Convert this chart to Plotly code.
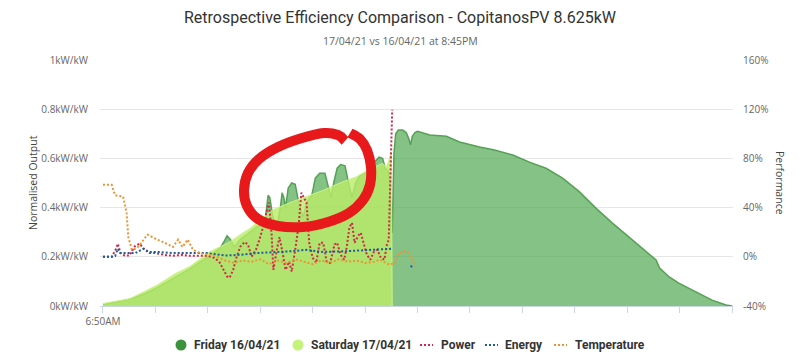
import plotly.graph_objects as go

# ---------------- data (x = minutes after 6:50AM) ----------------
sat_t = [0, 14, 31, 48, 62, 82, 99, 122, 145, 157, 168, 194, 214, 233, 252, 271, 290, 302, 314, 320, 324, 327, 329, 330, 331]
sat_v = [0.01, 0.02, 0.03, 0.06, 0.085, 0.13, 0.16, 0.22, 0.26, 0.29, 0.315, 0.39, 0.42, 0.445, 0.47, 0.50, 0.525, 0.55, 0.57, 0.58, 0.565, 0.59, 0.62, 0.62, 0]

fri_t = [0, 14, 31, 48, 62, 82, 99, 122, 134, 139, 142, 146, 150, 157, 168, 179, 186, 189, 191, 194, 199, 203, 205,
         207, 209, 212, 216, 220, 224, 229, 233, 239, 243, 248, 254, 257, 261, 264, 268, 272, 277, 281, 285, 289,
         294, 301, 307, 312, 316, 320, 323, 326, 328, 330, 331, 333, 335, 338, 343, 347, 350, 352, 354, 357, 360,
         374, 393, 408, 431, 448, 469, 488, 507, 526, 545, 565, 583, 602, 622, 633, 637, 648, 659, 679, 697, 713, 720]
fri_v = [0.005, 0.015, 0.028, 0.05, 0.075, 0.115, 0.15, 0.205, 0.235, 0.265, 0.285, 0.27, 0.24, 0.27, 0.30, 0.33,
         0.36, 0.45, 0.44, 0.37, 0.32, 0.40, 0.46, 0.44, 0.40, 0.48, 0.50, 0.495, 0.42, 0.36, 0.42, 0.45, 0.52,
         0.54, 0.54, 0.50, 0.44, 0.50, 0.56, 0.575, 0.57, 0.50, 0.44, 0.50, 0.53, 0.54, 0.56, 0.59, 0.605, 0.60,
         0.56, 0.55, 0.52, 0.30, 0.30, 0.62, 0.70, 0.715, 0.715, 0.705, 0.68, 0.655, 0.69, 0.705, 0.71,
         0.695, 0.69, 0.667, 0.646, 0.634, 0.614, 0.585, 0.56, 0.52, 0.465, 0.395, 0.337, 0.28, 0.22, 0.187,
         0.154, 0.118, 0.093, 0.057, 0.024, 0.004, 0]

pow_t = [0, 10, 15, 17, 20, 25, 30, 37, 42, 47, 53, 60, 70, 80, 90, 100, 110, 120, 127, 133, 138, 142, 145, 149,
         153, 157, 162, 166, 170, 175, 179, 183, 187, 190, 193, 195, 199, 202, 206, 209, 213, 216, 220, 224, 227,
         230, 233, 236, 240, 244, 248, 252, 256, 260, 265, 268, 272, 276, 279, 282, 285, 288, 292, 295, 298, 302,
         306, 310, 314, 318, 322, 325, 327, 329, 331]
pow_v = [0, 0, 6.5, 10.6, 3, 1, 1, 9, 10.6, 6.5, 3, 3, 1.6, 0.8, 1.6, 0.8, 0.8, 0.8, -0.8, -4, -10.6, -16, -17,
         -10.6, 0, 8, 12, 10, 0, 5.7, 13.8, 23.6, 35.8, 44, 18, -10.6, 5.7, 16, 1.6, -10.6, -4, -12, 5.7, 26, 52,
         48, 44, 11.4, -0.8, -5, 11.4, 11.4, -4, -5, 10, 11.4, 1.6, -2.4, 8, 24, 27.6, 11.4, 17, 19.5, 11.4, 1.6,
         -2.4, 4, 5.7, -0.8, -2.4, 10, 13.8, 66.7, 119.5]

en_t = [0, 10, 14, 17, 20, 28, 37, 46, 53, 62, 80, 100, 120, 140, 157, 175, 195, 215, 233, 250, 271, 290, 309, 330, 340, 352, 355]
en_v = [0, 0, 0.8, 6.5, 3, 3, 3, 6.5, 4, 4, 3, 3, 3, 1, 1.6, 3, 3.5, 4.5, 5.7, 4, 4.3, 5, 5.7, 6.5, None, -7.3, -9]

tmp_t = [0, 10, 12, 14, 23, 27, 29, 33, 39, 46, 51, 62, 69, 80, 86, 91, 97, 103, 111, 122, 130, 140, 150, 160,
         170, 180, 190, 200, 210, 220, 230, 240, 250, 260, 270, 280, 290, 300, 310, 317, 328, 334, 339, 344, 349, 354, 357]
tmp_v = [58.5, 58.5, 54, 50, 49, 36, 16, 5.7, 7, 14, 18, 14, 12, 8, 14, 8, 14, 5.7, 3, 1.6, 0, -3, -5, -3, -4, -2,
         -6, -3, -5, -2, -4, -6, -3, -5, -2, -4, -3, -5, -4, -2.4, -6.5, -5, 3, 4.5, 4, -2.4, -8]

x_tickvals = [0, 60, 120, 180, 240, 300, 360, 420, 480, 540, 600, 660, 720]
x_ticktext = ["6:50AM", "", "", "", "", "", "", "", "", "", "", "", ""]
left_tickvals = [0, 0.2, 0.4, 0.6, 0.8, 1]
left_ticktext = ["0kW/kW", "0.2kW/kW", "0.4kW/kW", "0.6kW/kW", "0.8kW/kW", "1kW/kW"]
right_tickvals = [-40, 0, 40, 80, 120, 160]
right_ticktext = ["-40%", "0%", "40%", "80%", "120%", "160%"]

legend_names = ["Friday 16/04/21", "Saturday 17/04/21", "Power", "Energy", "Temperature"]
colors = {"fri_fill": "rgba(86,170,86,0.72)", "fri_line": "#55a155", "fri_dot": "#3d923d",
          "sat_fill": "rgba(186,236,104,0.8)", "sat_line": "rgba(205,243,135,1)", "sat_dot": "#c5f27a",
          "power": "#d0284a", "energy": "#1f5c99", "temp": "#ec9436"}

# ---------------- geometry (page has an 8px body margin) ----------------
OFF = 8
W, H = 800 - OFF, 362 - OFF
L, R, T, B = 100 - OFF, 800 - 733, 60 - OFF, 362 - 306
PW, PH = W - L - R, H - T - B


def to_paper(px, py):
    """page pixel -> paper coordinates"""
    return ((px - OFF - L) / PW, (H - B - (py - OFF)) / PH)


fig = go.Figure()
fig.add_trace(go.Scatter(x=fri_t, y=fri_v, mode="lines", fill="tozeroy", fillcolor=colors["fri_fill"],
                         line=dict(color=colors["fri_line"], width=1.5), showlegend=False, hoverinfo="skip"))
fig.add_trace(go.Scatter(x=sat_t, y=sat_v, mode="lines", fill="tozeroy", fillcolor=colors["sat_fill"],
                         line=dict(color=colors["sat_line"], width=1), showlegend=False, hoverinfo="skip"))
fig.add_trace(go.Scatter(x=pow_t, y=pow_v, mode="lines", name="Power", yaxis="y2", showlegend=False,
                         line=dict(color=colors["power"], width=2, dash="2px,2px")))
fig.add_trace(go.Scatter(x=en_t, y=en_v, mode="lines", name="Energy", yaxis="y2", showlegend=False,
                         line=dict(color=colors["energy"], width=2, dash="2px,2px"), connectgaps=False))
fig.add_trace(go.Scatter(x=tmp_t, y=tmp_v, mode="lines", name="Temperature", yaxis="y2", showlegend=False,
                         line=dict(color=colors["temp"], width=2, dash="2px,2px")))

tickfont = dict(family="Open Sans", size=10, color="#666666")

# ---------------- hand-drawn red circle annotation ----------------
circle_px = [(350, 133), (360, 139), (367, 150), (371, 167), (370, 185), (363, 200), (349, 213), (328, 222),
             (303, 227), (278, 226), (258, 219), (247, 206), (244, 190), (248, 173), (259, 159), (278, 147),
             (302, 138), (324, 133), (338, 135), (345, 141)]
n = len(circle_px)
path = "M {:.4f},{:.4f}".format(*to_paper(*circle_px[0]))
for i in range(n - 1):
    p0 = circle_px[max(i - 1, 0)]
    p1 = circle_px[i]
    p2 = circle_px[i + 1]
    p3 = circle_px[min(i + 2, n - 1)]
    c1 = (p1[0] + (p2[0] - p0[0]) / 6, p1[1] + (p2[1] - p0[1]) / 6)
    c2 = (p2[0] - (p3[0] - p1[0]) / 6, p2[1] - (p3[1] - p1[1]) / 6)
    a, b, c = to_paper(*c1), to_paper(*c2), to_paper(*p2)
    path += " C {:.4f},{:.4f} {:.4f},{:.4f} {:.4f},{:.4f}".format(a[0], a[1], b[0], b[1], c[0], c[1])

shapes = [dict(type="path", path=path, xref="paper", yref="paper",
               line=dict(color="#e8191a", width=10), layer="above")]
annotations = []

# ---------------- legend (drawn manually to match spacing) ----------------
LEG_Y = 345
leg_font = dict(family="Roboto", size=12, color="#333333", weight="bold")
for cx, col in [(181, colors["fri_dot"]), (298, colors["sat_dot"])]:
    x0, y0 = to_paper(cx - 5.5, LEG_Y + 5.5)
    x1, y1 = to_paper(cx + 5.5, LEG_Y - 5.5)
    shapes.append(dict(type="circle", xref="paper", yref="paper", x0=x0, y0=y0, x1=x1, y1=y1,
                       fillcolor=col, line=dict(width=0)))
for sx, col in [(420, colors["power"]), (485, colors["energy"]), (554, colors["temp"])]:
    x0, y0 = to_paper(sx, LEG_Y)
    x1, _ = to_paper(sx + 13, LEG_Y)
    shapes.append(dict(type="line", xref="paper", yref="paper", x0=x0, y0=y0, x1=x1, y1=y0,
                       line=dict(color=col, width=2, dash="2px,2px")))
for tx, name in zip([192, 309, 439, 503, 573], legend_names):
    x, y = to_paper(tx, LEG_Y)
    annotations.append(dict(text=name, xref="paper", yref="paper", x=x, y=y, xanchor="left",
                            yanchor="middle", showarrow=False, font=leg_font))

# ---------------- titles ----------------
tx, ty = to_paper(400, 17)
annotations.append(dict(text="Retrospective Efficiency Comparison - CopitanosPV 8.625kW", xref="paper",
                        yref="paper", x=tx, y=ty, xanchor="center", yanchor="middle", showarrow=False,
                        font=dict(family="Roboto", size=16, color="#333333")))
tx, ty = to_paper(400, 41)
annotations.append(dict(text="17/04/21 vs 16/04/21 at 8:45PM", xref="paper", yref="paper", x=tx, y=ty,
                        xanchor="center", yanchor="middle", showarrow=False,
                        font=dict(family="Open Sans", size=10.5, color="#666666")))
tx, ty = to_paper(33, 183)
annotations.append(dict(text="Normalised Output", xref="paper", yref="paper", textangle=-90, x=tx, y=ty,
                        xanchor="center", yanchor="middle", showarrow=False,
                        font=dict(family="Open Sans", size=10.5, color="#444444")))
tx, ty = to_paper(780, 183)
annotations.append(dict(text="Performance", xref="paper", yref="paper", textangle=90, x=tx, y=ty,
                        xanchor="center", yanchor="middle", showarrow=False,
                        font=dict(family="Open Sans", size=10.5, color="#444444")))

fig.update_layout(
    width=W, height=H,
    margin=dict(l=L, r=R, t=T, b=B, pad=0, autoexpand=False),
    paper_bgcolor="white", plot_bgcolor="white",
    font=dict(family="Open Sans", color="#333333"),
    showlegend=False,
    xaxis=dict(range=[-3.4, 721], tickvals=x_tickvals, ticktext=x_ticktext, showgrid=False,
               showline=True, linecolor="#ccd6eb", linewidth=1, ticks="outside", ticklen=6,
               tickcolor="#ccd6eb", tickfont=tickfont, zeroline=False, automargin=False),
    yaxis=dict(range=[0, 1], tickvals=left_tickvals, ticktext=left_ticktext, showgrid=True,
               gridcolor="#e6e6e6", gridwidth=1, zeroline=False, tickfont=tickfont,
               ticks="outside", ticklen=9, tickcolor="rgba(0,0,0,0)", showline=False, automargin=False),
    yaxis2=dict(range=[-40, 160], tickvals=right_tickvals, ticktext=right_ticktext, overlaying="y",
                side="right", showgrid=False, zeroline=False, tickfont=tickfont,
                ticks="outside", ticklen=7, tickcolor="rgba(0,0,0,0)", showline=False, automargin=False),
    shapes=shapes,
    annotations=annotations,
)

fig.write_html("out.html")
